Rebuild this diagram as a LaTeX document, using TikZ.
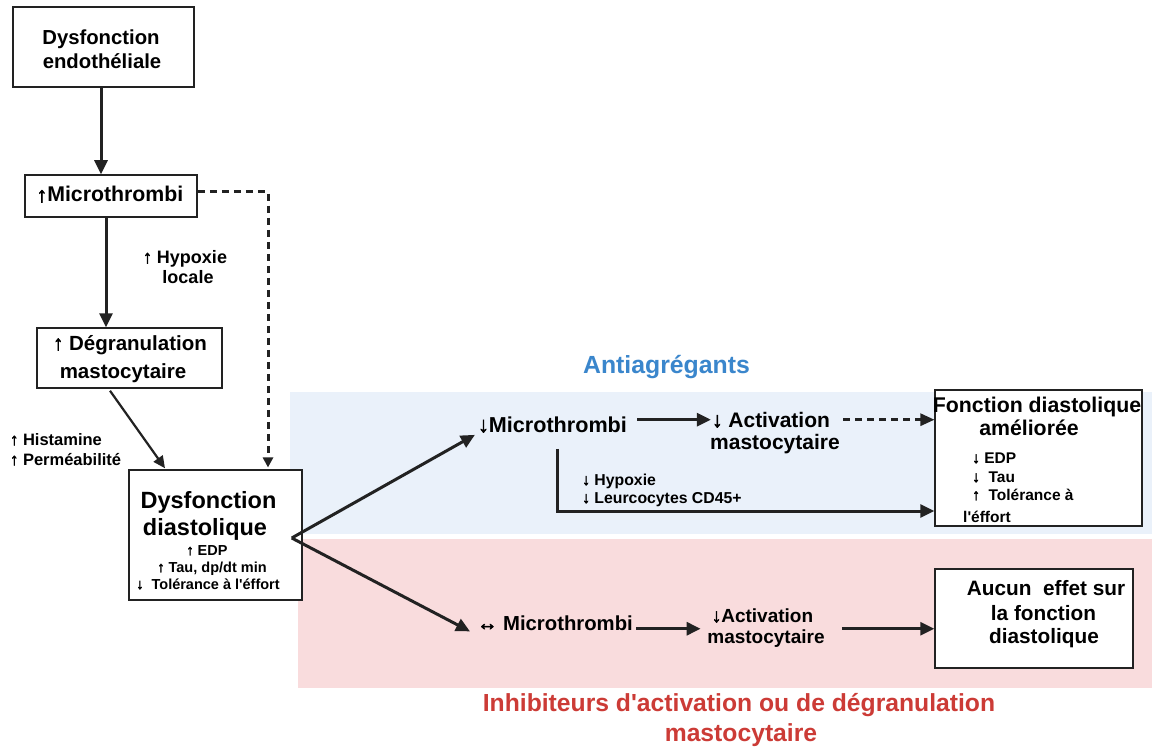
\documentclass[tikz,border=0pt]{standalone}
\usepackage{fontspec}
\setmainfont{Liberation Sans}[Ligatures=TeXOff]
\newfontfamily\arwfont[FakeBold=2.5]{Liberation Sans}
\usetikzlibrary{arrows.meta}
\definecolor{ln}{HTML}{222222}
\definecolor{bluebg}{HTML}{EAF1FA}
\definecolor{pinkbg}{HTML}{F9DCDD}
\definecolor{bluetxt}{HTML}{3A86CC}
\definecolor{redtxt}{HTML}{CC3B36}
\newcommand{\fs}[1]{\fontsize{#1}{#1}\selectfont}
\newcommand{\A}[1]{{\arwfont\bfseries #1}}
\begin{document}
\begin{tikzpicture}[x=1pt,y=-1pt,
  box/.style={draw=ln,line width=1.5pt,fill=white,inner sep=0pt},
  arr/.style={draw=ln,line width=3pt,-{Triangle[length=14pt,width=13pt]}},
  thinarr/.style={draw=ln,line width=2.2pt,-{Triangle[length=12pt,width=11pt]}},
  dsh/.style={draw=ln,line width=3pt,dash pattern=on 7pt off 5pt},
  t/.style={font=\bfseries,inner sep=0pt,anchor=base},
  tl/.style={font=\bfseries,inner sep=0pt,anchor=base west}]
\useasboundingbox (0,0) rectangle (1152,749);
\fill[white] (0,0) rectangle (1152,749);
\fill[bluebg] (290,392) rectangle (1152,534);
\fill[pinkbg] (298,539) rectangle (1152,688);

% ---------------- left column ----------------
\node[box,minimum width=181pt,minimum height=80pt] (b1) at (103.5,47) {};
\node[t,font=\bfseries\fs{20.3}] (b1a) at (101,45) {Dysfonction};
\node[t,font=\bfseries\fs{20.3}] (b1b) at (102,69) {endothéliale};

\node[box,minimum width=172pt,minimum height=42pt] (b2) at (111,196) {};
\node[t,font=\bfseries\fs{21.3}] (b2a) at (110,202) {\A{↑}Microthrombi};

\node[t,font=\bfseries\fs{18}] (hyp) at (185,263) {\A{↑} Hypoxie};
\node[t,font=\bfseries\fs{18}] (loc) at (188,283) {locale};

\node[box,minimum width=185pt,minimum height=60pt] (b3) at (129.5,358) {};
\node[t,font=\bfseries\fs{20.5}] (b3a) at (130,350) {\A{↑} Dégranulation};
\node[t,font=\bfseries\fs{20.5}] (b3b) at (123,378) {mastocytaire};

\node[tl,font=\bfseries\fs{16.5}] (his) at (10,445) {\A{↑} Histamine};
\node[tl,font=\bfseries\fs{16.5}] (per) at (10,465) {\A{↑} Perméabilité};

\node[box,minimum width=173pt,minimum height=130pt] (b4) at (215.5,535) {};
\node[t,font=\bfseries\fs{23.5}] (b4a) at (208.5,508) {Dysfonction};
\node[t,font=\bfseries\fs{23.5}] (b4b) at (205,535) {diastolique};
\node[t,font=\bfseries\fs{14.5}] (b4c) at (207,555) {\A{↑} EDP};
\node[t,font=\bfseries\fs{14.5}] (b4d) at (212,572) {\A{↑} Tau, dp/dt min};
\node[t,font=\bfseries\fs{14.5}] (b4e) at (208,589) {\A{↓}\ \ Tolérance à l'éffort};

\draw[arr] ([xshift=-2.5pt]b1.south) -- ([xshift=-2.5pt]b1.south |- b2.north);
\draw[arr] ([xshift=-5pt]b2.south) -- ([xshift=-5pt]b2.south |- b3.north);
\draw[thinarr] ([xshift=-19.5pt,yshift=-2pt]b3.south) -- ([xshift=-50.5pt,yshift=1pt]b4.north);
\coordinate (dstart) at ([yshift=4pt]b2.east);
\coordinate (dend) at ([xshift=52.5pt,yshift=2pt]b4.north);
\draw[dsh] (dstart) -| ([yshift=9pt]dend);
\fill[ln] (dend) -- ++(-5.5,-10) -- ++(11,0) -- cycle;

% ---------------- titles ----------------
\node[t,text=bluetxt,font=\bfseries\fs{24.8}] (anti) at (666.5,373) {Antiagrégants};
\node[t,text=redtxt,font=\bfseries\fs{24.7}] (inh1) at (739,711) {Inhibiteurs d'activation ou de dégranulation};
\node[t,text=redtxt,font=\bfseries\fs{24.7}] (inh2) at (741,741) {mastocytaire};

% ---------------- split ----------------
\coordinate (split) at ([xshift=-11pt,yshift=-3pt]b4.east);

% ---------------- upper flow ----------------
\node[t,font=\bfseries\fs{21.6}] (m1) at (552.5,432) {\A{↓}Microthrombi};
\node[t,font=\bfseries\fs{21}] (a1a) at (771,427) {\A{↓} Activation};
\node[t,font=\bfseries\fs{21}] (a1b) at (775,449) {mastocytaire};

\node[box,minimum width=207pt,minimum height=136pt] (b5) at (1038.5,458) {};
\node[t,font=\bfseries\fs{21.3}] (b5a) at (1037,412) {Fonction diastolique};
\node[t,font=\bfseries\fs{21.3}] (b5b) at (1029,435) {améliorée};
\node[tl,font=\bfseries\fs{15.5}] (b5c) at (972,463) {\A{↓} EDP};
\node[tl,font=\bfseries\fs{15.5}] (b5d) at (972,482) {\A{↓}\ \ Tau};
\node[tl,font=\bfseries\fs{15.5}] (b5e) at (972,500) {\A{↑}\ \ Tolérance à};
\node[tl,font=\bfseries\fs{15.5}] (b5f) at (963,522) {l'éffort};

\node[tl,font=\bfseries\fs{15.8}] (hy2) at (582,485) {\A{↓} Hypoxie};
\node[tl,font=\bfseries\fs{15.8}] (leu) at (582,503) {\A{↓} Leurcocytes CD45+};

\draw[arr] (split) -- ([xshift=-3pt,yshift=-2pt]m1.south west);
\coordinate (u1) at ([xshift=10pt]m1.east |- a1a.west);
\draw[arr] (u1) -- ([xshift=-1pt]a1a.west);
\coordinate (u2) at ([xshift=13pt]a1a.east);
\draw[dsh] (u2) -- ([xshift=-13pt]b5.west |- u2);
\fill[ln] (b5.west |- u2) -- ++(-14,-6.5) -- ++(0,13) -- cycle;
\coordinate (u3) at ([xshift=4.5pt,yshift=-16pt]m1.south);
\coordinate (u4) at ([yshift=-53pt]b5.west);
\draw[arr] (u3) |- (u4);

% ---------------- lower flow ----------------
\node[t,font=\bfseries\fs{20.3}] (m2) at (555,630) {\A{↔} Microthrombi};
\node[t,font=\bfseries\fs{19}] (a2a) at (762.5,622) {\A{↓}Activation};
\node[t,font=\bfseries\fs{19}] (a2b) at (766,643) {mastocytaire};

\node[box,minimum width=198pt,minimum height=99pt] (b6) at (1034,618.5) {};
\node[t,font=\bfseries\fs{20.8}] (b6a) at (1046,595) {Aucun\ \ effet sur};
\node[t,font=\bfseries\fs{20.8}] (b6b) at (1043.5,620) {la fonction};
\node[t,font=\bfseries\fs{20.8}] (b6c) at (1044,643) {diastolique};

\draw[arr] (split) -- ([xshift=-7pt,yshift=-1pt]m2.south west);
\coordinate (l1) at ([xshift=3pt,yshift=-6pt]m2.east);
\draw[arr] (l1) -- ([xshift=-11pt]a2a.west |- l1);
\coordinate (l2) at ([xshift=17pt]a2b.east |- l1);
\draw[arr] (l2) -- (b6.west |- l2);
\end{tikzpicture}
\end{document}
